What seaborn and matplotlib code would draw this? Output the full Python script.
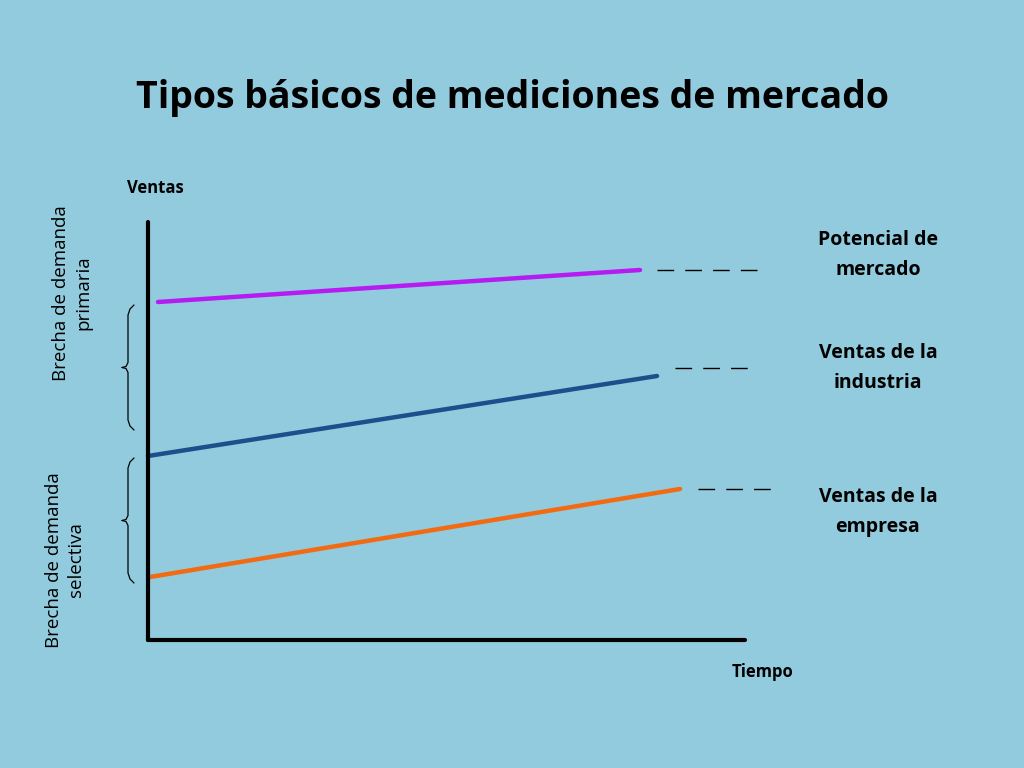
import matplotlib
matplotlib.use("Agg")
import matplotlib.pyplot as plt
import seaborn as sns
import pandas as pd
import numpy as np

# Data (time, sales units; origin at axes corner)
series = ["Potencial de mercado", "Ventas de la industria", "Ventas de la empresa"]
t_start = [10, 0, 2]
t_end = [492, 509, 532]
v_start = [338, 184, 63]
v_end = [370, 264, 151]
dash_t0 = [509, 527, 550]
dash_t1 = [614, 607, 630]
dash_v = [370, 272, 151]
colors = ["#B61BF2", "#1F4E8C", "#F26A12"]
labels = ["Potencial de\nmercado", "Ventas de la\nindustria", "Ventas de la\nempresa"]
label_v = [385, 272, 128]

bg = "#92CBDD"
sns.set_style("white")
plt.rcParams["font.family"] = "Open Sans"
plt.rcParams["text.color"] = "black"
fig = plt.figure(figsize=(10.24, 7.68), dpi=100, facecolor=bg)
ax = fig.add_axes([0, 0, 1, 1])
ax.set_facecolor(bg)
ax.set_xlim(-148, 876)
ax.set_ylim(-128, 640)
ax.axis("off")

df = pd.DataFrame({"t": t_start + t_end, "v": v_start + v_end, "s": series + series})
sns.lineplot(data=df, x="t", y="v", hue="s", palette=dict(zip(series, colors)),
             lw=3.2, legend=False, ax=ax)
for i in range(3):
    ax.plot([dash_t0[i], dash_t1[i]], [dash_v[i], dash_v[i]], color="black", lw=1,
            dashes=(12, 8))
    ax.text(730, label_v[i], labels[i], ha="center", va="center", fontsize=14,
            fontweight="bold", linespacing=1.7, color="black")

# axes
ax.plot([0, 0], [0, 418], color="black", lw=3)
ax.plot([0, 597], [0, 0], color="black", lw=3)

ax.text(364, 542, "Tipos básicos de mediciones de mercado", ha="center", va="center",
        fontsize=27, fontweight="bold", color="black")
ax.text(7, 452, "Ventas", ha="center", va="center", fontsize=12, fontweight="bold", color="black")
ax.text(615, -32, "Tiempo", ha="center", va="center", fontsize=12, fontweight="bold", color="black")
ax.text(-76, 347, "Brecha de demanda\nprimaria", rotation=90, ha="center", va="center",
        fontsize=13.5, linespacing=1.3, color="black")
ax.text(-83, 80, "Brecha de demanda\nselectiva", rotation=90, ha="center", va="center",
        fontsize=13.5, linespacing=1.3, color="black")

# braces
def brace(y0, y1, x=-20):
    ym = (y0 + y1) / 2
    ax.plot([x + 6, x + 2, x, x, x - 2, x - 6], [y1, y1 - 4, y1 - 10, ym + 5, ym + 1, ym],
            color="black", lw=0.9)
    ax.plot([x + 6, x + 2, x, x, x - 2, x - 6], [y0, y0 + 4, y0 + 10, ym - 5, ym - 1, ym],
            color="black", lw=0.9)

brace(210, 335)
brace(57, 182)

fig.savefig("out.png", dpi=100, facecolor=bg)
